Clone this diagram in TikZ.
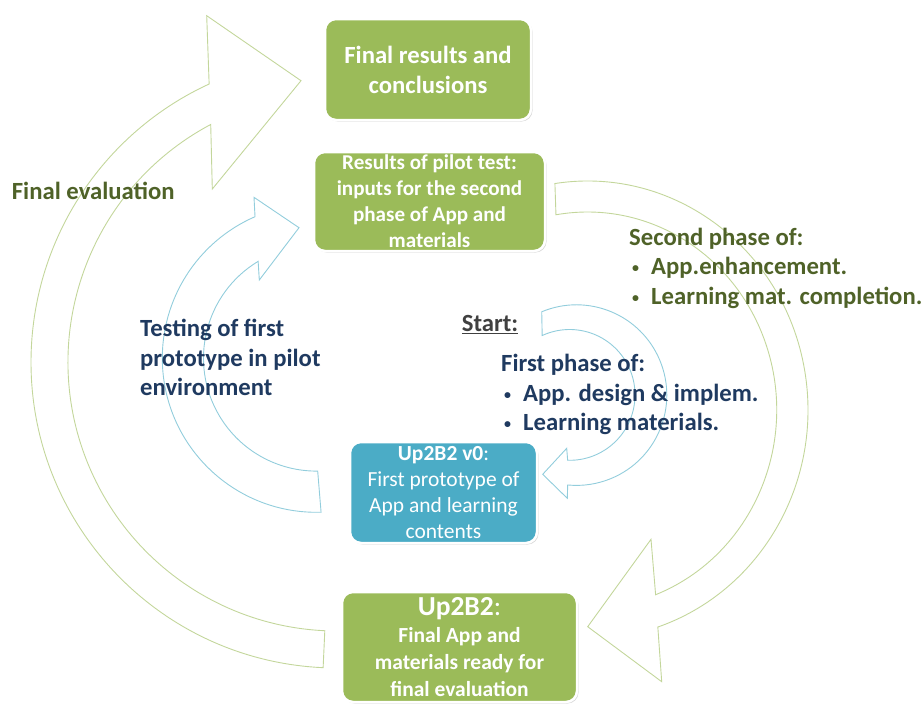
\documentclass[tikz,border=0pt]{standalone}
\usepackage{fontspec}
\setmainfont{Carlito}
\usetikzlibrary{calc,shadows}
\definecolor{boxgreen}{HTML}{9BBB59}
\definecolor{boxblue}{HTML}{4BACC6}
\definecolor{arrgreen}{HTML}{C3D69B}
\definecolor{arrblue}{HTML}{92CDDC}
\definecolor{txtgreen}{HTML}{4F6228}
\definecolor{txtnavy}{HTML}{1F3A60}
\definecolor{txtgray}{HTML}{404040}
\newcommand{\blt}{\makebox[22pt][l]{\hspace{3pt}\raisebox{2.2pt}{\fontsize{14}{14}\selectfont•}}}
\begin{document}
\begin{tikzpicture}[x=1pt,y=1pt,yscale=-1,
  garrow/.style={draw=arrgreen, line width=0.9pt, line join=miter},
  barrow/.style={draw=arrblue, line width=0.9pt, line join=miter},
  box/.style={draw=white, line width=2.5pt, rounded corners=11pt, text=white,
    align=center, inner sep=0pt,
    drop shadow={shadow xshift=1.5pt, shadow yshift=-1.5pt, opacity=0.3}},
  lbl/.style={inner sep=0pt, anchor=base west,
    font=\bfseries\fontsize{24.7}{29.6}\selectfont}
]
\useasboundingbox (0,0) rectangle (923,704);

% big green circular arrow (Final evaluation)
\coordinate (G1) at (337,362);
\draw[garrow] ($(G1)+(92.6:306)$) arc[start angle=92.6, end angle=245.3, radius=306pt]
  -- (206.7,15.7) -- (301,80.7) -- (212.3,189)
  -- ($(G1)+(242:269)$) arc[start angle=242, end angle=92.6, radius=269pt] -- cycle;

% right green circular arrow (Second phase)
\coordinate (G2) at (587.5,410);
\draw[garrow] ($(G2)+(261.5:220.5 and 229)$) arc[start angle=261.5, end angle=431.4, x radius=220.5pt, y radius=229pt]
  -- (661.7,681.7) -- (587.7,626.7) -- (651,539.3)
  -- ($(G2)+(68.9:189.2 and 198)$) arc[start angle=68.9, end angle=-99.6, x radius=189.2pt, y radius=198pt] -- cycle;

% left blue circular arrow (Testing)
\coordinate (L1) at (316.5,358.1);
\draw[barrow] ($(L1)+(88.3:154.2)$) arc[start angle=88.3, end angle=246.5, radius=154.2pt]
  -- (254,197.3) -- (299,227.7) -- (259.3,280)
  -- ($(L1)+(238.9:113)$) arc[start angle=238.9, end angle=89.4, radius=113pt] -- cycle;

% right blue circular arrow (First phase)
\coordinate (R1) at (576.5,395.1);
\coordinate (R2) at (569.6,394.9);
\draw[barrow] ($(R1)+(247.35:90.3)$) arc[start angle=247.35, end angle=455.6, radius=90.3pt]
  -- (567.3,498.3) -- (542.7,474.3) -- (566.7,448.3)
  -- ($(R2)+(451.7:65.4)$) arc[start angle=451.7, end angle=245.2, radius=65.4pt] -- cycle;

% boxes
\node[box, fill=boxgreen, minimum width=206pt, minimum height=101pt,
  font=\bfseries\fontsize{24.7}{30}\selectfont] (final) at (428,69.5)
  {Final results and\\conclusions};
\node[box, fill=boxgreen, minimum width=231pt, minimum height=99pt,
  font=\bfseries\fontsize{21.1}{26}\selectfont] (pilot) at (429.5,201.5)
  {Results of pilot test:\\inputs for the second\\phase of App and\\materials};
\node[box, fill=boxblue, minimum width=187pt, minimum height=101pt,
  font=\fontsize{21.5}{26.3}\selectfont] (v0) at (443.5,492.5)
  {\textbf{Up2B2 v0}:\\First prototype of\\App and learning\\contents};
\node[box, fill=boxgreen, minimum width=235pt, minimum height=110pt,
  font=\bfseries\fontsize{21.5}{27}\selectfont] (up) at (459.5,647)
  {{\fontsize{27.5}{30}\selectfont Up2B2\mdseries:}\\Final App and\\materials ready for\\final evaluation};

% labels
\node[lbl, text=txtgreen] (fe) at (11.7,199) {Final evaluation};
\node[lbl, text=txtnavy] (test) at (140,336.5)
  {\vtop{\hbox{Testing of first}\hbox{prototype in pilot}\hbox{environment}}};
\node[lbl, text=txtgray] (start) at (461.7,331.7) {\underline{Start:}};
\node[lbl, text=txtnavy] (first) at (501,371.7)
  {\vtop{\hbox{First phase of:}\hbox{\blt App. design \& implem.}\hbox{\blt Learning materials.}}};
\node[lbl, text=txtgreen] (second) at (629,245)
  {\vtop{\hbox{Second phase of:}\hbox{\blt App.enhancement.}\hbox{\blt Learning mat. completion.}}};
\end{tikzpicture}
\end{document}
